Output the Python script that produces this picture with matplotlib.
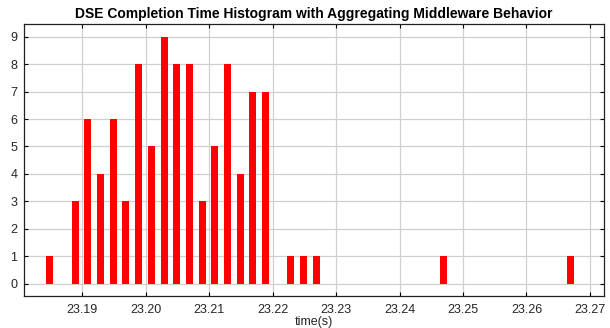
import matplotlib
matplotlib.use("Agg")
import matplotlib.pyplot as plt

# histogram bin centres (s) and counts
bin_centers = [23.1849, 23.1889, 23.1909, 23.1929, 23.1949, 23.1969, 23.1989,
               23.2009, 23.2029, 23.2049, 23.2069, 23.2089, 23.2109, 23.2129,
               23.2149, 23.2169, 23.2189, 23.2229, 23.2249, 23.2269, 23.2469,
               23.2669]
counts = [1, 3, 6, 4, 6, 3, 8, 5, 9, 8, 8, 3, 5, 8, 4, 7, 7, 1, 1, 1, 1, 1]

x_ticks = [23.19, 23.20, 23.21, 23.22, 23.23, 23.24, 23.25, 23.26, 23.27]
x_tick_labels = ["23.19", "23.20", "23.21", "23.22", "23.23", "23.24", "23.25", "23.26", "23.27"]
y_ticks = list(range(10))

plt.rcParams["font.family"] = ["Liberation Sans", "DejaVu Sans"]

fig = plt.figure(figsize=(6.1, 3.28), dpi=100)
ax = fig.add_axes([0.040, 0.098, 0.950, 0.829])

ax.bar(bin_centers, counts, width=0.0011, color="#ff0000", zorder=3)

ax.set_xlim(23.1809, 23.2722)
ax.set_ylim(-0.45, 9.47)
ax.set_xticks(x_ticks)
ax.set_xticklabels(x_tick_labels)
ax.set_yticks(y_ticks)
ax.grid(True, color="#d0d0d0", linewidth=0.9, zorder=0)
ax.tick_params(direction="in", top=True, right=True, labelsize=9, length=3,
               labelcolor="#262626")
ax.tick_params(axis="x", pad=6)
ax.tick_params(axis="y", pad=5)
for s in ax.spines.values():
    s.set_linewidth(0.9)
    s.set_color("#222222")

ax.set_xlabel("time(s)", fontsize=9, labelpad=0, color="#262626")
ax.set_title("DSE Completion Time Histogram with Aggregating Middleware Behavior",
             fontsize=10, fontweight="bold", pad=4)

fig.savefig("out.png", dpi=100)
